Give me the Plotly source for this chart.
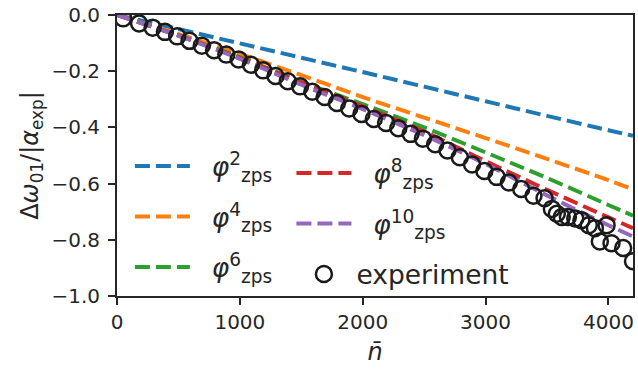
import plotly.graph_objects as go

# ---- data ----
n_theory = [0, 500, 1000, 1500, 2000, 2500, 3000, 3500, 4000, 4200]
phi2 = [0, -0.050, -0.101, -0.152, -0.203, -0.255, -0.307, -0.359, -0.410, -0.430]
phi4 = [0, -0.068, -0.138, -0.214, -0.292, -0.365, -0.438, -0.512, -0.588, -0.620]
phi6 = [0, -0.072, -0.150, -0.237, -0.317, -0.400, -0.489, -0.580, -0.676, -0.714]
phi8 = [0, -0.073, -0.153, -0.240, -0.325, -0.415, -0.520, -0.622, -0.720, -0.759]
phi10 = [0, -0.074, -0.156, -0.248, -0.335, -0.428, -0.530, -0.642, -0.748, -0.788]

n_exp = [50, 180, 290, 390, 490, 590, 690, 790, 890, 990,
         1090, 1190, 1290, 1390, 1490, 1590, 1690, 1790, 1890, 1990,
         2090, 2190, 2290, 2390, 2490, 2590, 2690, 2790, 2890, 2990,
         3090, 3190, 3290, 3390, 3480, 3540, 3580, 3620, 3670, 3730,
         3780, 3840, 3890, 3930, 3985, 4025, 4120, 4200]
v_exp = [-0.012, -0.030, -0.045, -0.060, -0.076, -0.092, -0.109, -0.125, -0.141, -0.158,
         -0.177, -0.197, -0.217, -0.236, -0.254, -0.273, -0.292, -0.313, -0.333, -0.352,
         -0.370, -0.384, -0.403, -0.423, -0.440, -0.460, -0.482, -0.506, -0.532, -0.555,
         -0.576, -0.596, -0.619, -0.643, -0.652, -0.690, -0.707, -0.719, -0.719, -0.724,
         -0.730, -0.748, -0.759, -0.806, -0.748, -0.812, -0.829, -0.876]

x_ticks = [0, 1000, 2000, 3000, 4000]
y_ticks = [-1.0, -0.8, -0.6, -0.4, -0.2, 0.0]

series = [
    ("<i>φ</i><sup>2</sup><sub>zps</sub>", phi2, "#1f77b4", "legend"),
    ("<i>φ</i><sup>4</sup><sub>zps</sub>", phi4, "#ff7f0e", "legend"),
    ("<i>φ</i><sup>6</sup><sub>zps</sub>", phi6, "#2ca02c", "legend"),
    ("<i>φ</i><sup>8</sup><sub>zps</sub>", phi8, "#d62728", "legend2"),
    ("<i>φ</i><sup>10</sup><sub>zps</sub>", phi10, "#9467bd", "legend2"),
]

fig = go.Figure()
for i, (name, vals, col, lg) in enumerate(series):
    fig.add_trace(go.Scatter(
        x=n_theory, y=vals, mode="lines", name="\u00a0\u00a0" + name,
        line=dict(color=col, width=4, dash="15px,6px", shape="spline"),
        legend=lg, legendgroup=f"g{i}",
    ))

fig.add_trace(go.Scatter(
    x=n_exp, y=v_exp, mode="markers", name="experiment",
    marker=dict(symbol="circle-open", size=16, color="#1a1a1a",
                line=dict(width=2.5, color="#1a1a1a")),
    legend="legend2", legendgroup="gexp",
))

axis_common = dict(
    showline=True, linewidth=2, linecolor="#262626", mirror=True,
    ticks="outside", ticklen=7, tickwidth=2, tickcolor="#262626",
    showgrid=False, zeroline=False, ticklabeloverflow="allow",
    tickfont=dict(size=20, color="#262626"),
)

fig.update_layout(
    width=638, height=369,
    margin=dict(l=117, r=3, t=9, b=73),
    paper_bgcolor="white", plot_bgcolor="white",
    font=dict(family="DejaVu Sans", size=20, color="#262626"),
    xaxis=dict(range=[0, 4200], tickvals=x_ticks,
               title=dict(text="<i>n̄</i>", standoff=10), **axis_common),
    yaxis=dict(range=[-1.0, 0.0], tickvals=y_ticks, tickformat=".1f",
               ticklabelstandoff=4,
               title=dict(text="Δ<i>ω</i><sub>01</sub>/|<i>α</i><sub>exp</sub>|", standoff=6),
               **axis_common),
    legend=dict(x=0.025, y=0.547, xanchor="left", yanchor="top",
                bgcolor="rgba(0,0,0,0)", font=dict(size=26.5, color="#262626"),
                tracegroupgap=13, itemwidth=55),
    legend2=dict(x=0.338, y=0.522, xanchor="left", yanchor="top",
                 bgcolor="rgba(0,0,0,0)", font=dict(size=26.5, color="#262626"),
                 tracegroupgap=13, itemwidth=55),
    showlegend=True,
)

fig.write_html("out.html")
